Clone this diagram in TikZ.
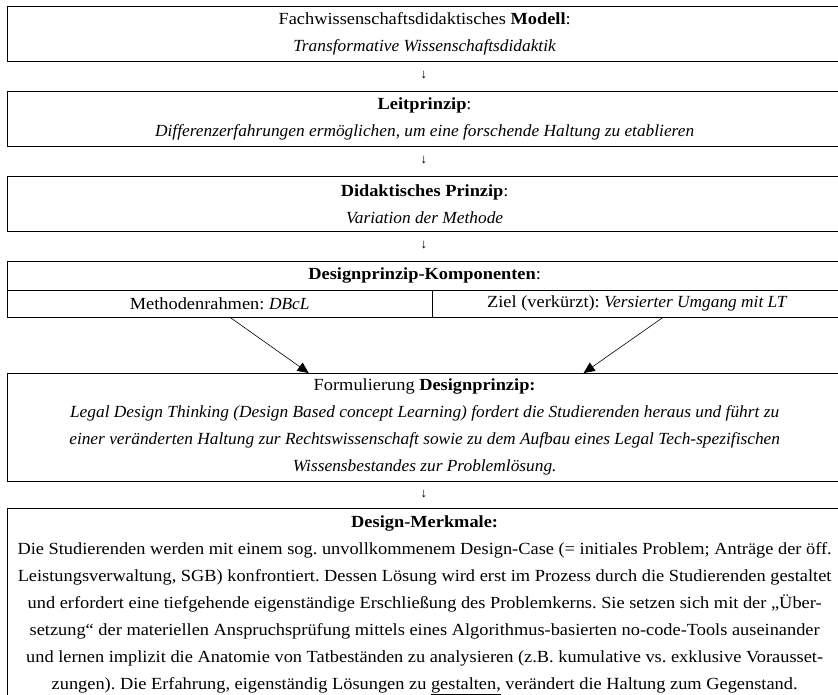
\documentclass[tikz,border=0pt]{standalone}
\usepackage{fontspec}
\setmainfont{Liberation Serif}[
  UprightFeatures={FakeStretch=1.08},
  BoldFeatures={FakeStretch=1.08},
  ItalicFeatures={FakeStretch=1.02}]
\usetikzlibrary{arrows.meta,calc}

\tikzset{
  kasten/.style={draw, line width=0.8pt, inner sep=0pt, align=center, anchor=north west,
    minimum width=835.5pt, font=\fontsize{17}{27}\selectfont},
  zelle/.style={kasten, minimum height=27pt},
  pfeiltext/.style={font=\fontsize{13}{15}\selectfont, inner sep=0pt},
  pfeil/.style={-{Triangle[length=11pt,width=10pt]}, line width=0.6pt},
}

\begin{document}
\frenchspacing
\begin{tikzpicture}[x=1pt, y=-1pt]
    \useasboundingbox (0,0) rectangle (838,695);
    % Modell und Prinzipien
    \node[kasten, minimum height=55pt] (modell) at (6.5,6)
      {Fachwissenschaftsdidaktisches \textbf{Modell}:\\ \textit{Transformative Wissenschaftsdidaktik}};
    \node[pfeiltext] (p1) at (424,75) {↓};
    \node[kasten, minimum height=55pt] (leit) at (6.5,91)
      {\textbf{Leitprinzip}:\\ \textit{Differenzerfahrungen ermöglichen, um eine forschende Haltung zu etablieren}};
    \node[pfeiltext] (p2) at (424,160) {↓};
    \node[kasten, minimum height=55pt] (didaktik) at (6.5,176)
      {\textbf{Didaktisches Prinzip}:\\ \textit{Variation der Methode}};
    \node[pfeiltext] (p3) at (424,245) {↓};
    % Komponenten
    \node[kasten, minimum height=29pt] (kompo) at (6.5,261) {\textbf{Designprinzip-Komponenten}:};
    \node[zelle, minimum width=425.5pt] (rahmen) at (6.5,290) {Methodenrahmen: \textit{DBcL}};
    \node[zelle, minimum width=410pt] (ziel) at (432,290) {Ziel (verkürzt): \textit{Versierter Umgang mit LT}};
    % Formulierung
    \node[kasten, minimum height=108pt] (formel) at (6.5,373)
      {Formulierung \textbf{Designprinzip:}\\
       \textit{Legal Design Thinking (Design Based concept Learning) fordert die Studierenden heraus und führt zu}\\
       \textit{einer veränderten Haltung zur Rechtswissenschaft sowie zu dem Aufbau eines Legal Tech-spezifischen}\\
       \textit{Wissensbestandes zur Problemlösung.}};
    \draw[pfeil] ($(rahmen.south)+(11,0)$) -- ($(formel.north)+(-116,0)$);
    \draw[pfeil] ($(ziel.south)+(25,0)$) -- ($(formel.north)+(159,0)$);
    \node[pfeiltext] (p4) at (424,494) {↓};
    % Merkmale
    \node[kasten, minimum height=194pt] (merkmal) at (6.5,508)
      {\textbf{Design-Merkmale:}\\
       Die Studierenden werden mit einem sog. unvollkommenem Design-Case (= initiales Problem; Anträge der öff.\\
       Leistungsverwaltung, SGB) konfrontiert. Dessen Lösung wird erst im Prozess durch die Studierenden gestaltet\\
       und erfordert eine tiefgehende eigenständige Erschließung des Problemkerns. Sie setzen sich mit der „Über-\\
       setzung“ der materiellen Anspruchsprüfung mittels eines Algorithmus-basierten no-code-Tools auseinander\\
       und lernen implizit die Anatomie von Tatbeständen zu analysieren (z.B. kumulative vs. exklusive Vorausset-\\
       zungen). Die Erfahrung, eigenständig Lösungen zu \underline{gestalten,} verändert die Haltung zum Gegenstand.};
\end{tikzpicture}
\end{document}
